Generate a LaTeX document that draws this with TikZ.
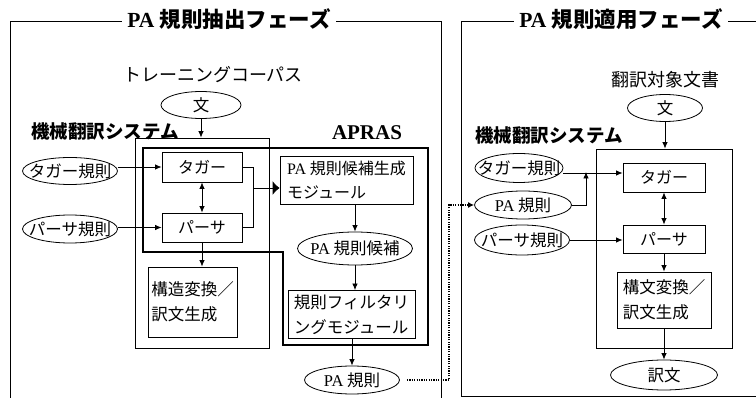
\documentclass[tikz,border=0pt]{standalone}
\usepackage{fontspec}
\setmainfont{Liberation Serif}
\newfontfamily\jp{Noto Sans CJK JP}
\usetikzlibrary{shapes.geometric,arrows.meta}
\begin{document}
\begin{tikzpicture}[x=1pt,y=-1pt,
  thin/.style={line width=0.8pt},
  box/.style={draw, line width=0.8pt, inner sep=0pt, align=left, font=\jp\fontsize{16}{24.5}\selectfont},
  frame/.style={draw, line width=0.8pt, inner sep=0pt},
  labstyle/.style={font=\jp\fontsize{16.5}{16.5}\selectfont, inner sep=0pt},
  ell/.style={draw, ellipse, line width=0.8pt, inner sep=0pt, label={[labstyle]center:{#1}}},
  arr/.style={line width=0.8pt, -{Latex[length=6.5pt,width=5.5pt]}},
  bigarr/.style={line width=0.8pt, -{Latex[length=7pt,width=14pt]}},
  darr/.style={line width=0.8pt, {Latex[length=6.5pt,width=5.5pt]}-{Latex[length=6.5pt,width=5.5pt]}},
  dotline/.style={line width=1.6pt, dash pattern=on 1.2pt off 1.2pt, -{Latex[length=6pt,width=6pt]}},
  phase/.style={fill=white, inner xsep=5pt, inner ysep=0pt, font=\bfseries\fontsize{21.5}{21.5}\selectfont},
  mtlabel/.style={font=\jp\bfseries\fontsize{18.5}{18.5}\selectfont, inner sep=0pt},
  plain/.style={font=\jp\fontsize{18}{18}\selectfont, inner sep=0pt}
]
\useasboundingbox (0,0) rectangle (756,398);

% ---------- phase frames ----------
\draw[thin] (10,398) -- (10,21) -- (441,21) -- (441,398);
\draw[thin] (756,21) -- (461,21) -- (461,396) -- (756,396);
\node[phase] (title1) at (229,19) {PA {\jp 規則抽出フェーズ}};
\node[phase] (title2) at (621,19) {PA {\jp 規則適用フェーズ}};

% ---------- left: extraction phase ----------
\node[plain] (corpus) at (213,75) {トレーニングコーパス};
\node[ell={文}, minimum width=80pt, minimum height=27pt] (bun1) at (201,105) {};
\node[mtlabel] (mtl1) at (105,131) {機械翻訳システム};
\node[frame, minimum width=134pt, minimum height=210pt] (mt1) at (202,243) {};
\node[box, minimum width=80pt, minimum height=30pt] (tagger1) at (202,167) {タガー};
\node[box, minimum width=80pt, minimum height=29pt] (parser1) at (202,227.5) {パーサ};
\node[box, minimum width=89pt, minimum height=70pt, font=\jp\fontsize{16.5}{25}\selectfont] (struct1) at (192.5,302) {構造変換／\\訳文生成};
\node[ell={タガー規則}, minimum width=95pt, minimum height=27pt] (tr1) at (70,171) {};
\node[ell={パーサ規則}, minimum width=95pt, minimum height=28pt] (pr1) at (70,229) {};

% APRAS region (thick outline)
\draw[line width=2.6pt, line join=miter] (143,148) -- (428,148) -- (428,345) -- (283,345) -- (283,252) -- (143,252) -- cycle;
\node[font=\bfseries\fontsize{21}{21}\selectfont, inner sep=0pt] (apras) at (367,133) {APRAS};
\node[box, minimum width=133pt, minimum height=48pt] (candgen) at (346.5,180) {{\rmfamily PA} 規則候補生成\\モジュール};
\node[ell={{\rmfamily PA} 規則候補}, minimum width=115pt, minimum height=33pt] (cand) at (355,248.5) {};
\node[box, minimum width=127pt, minimum height=48pt, font=\jp\fontsize{16.5}{25}\selectfont] (filter) at (351.5,314.5) {規則フィルタリ\\ングモジュール};
\node[ell={{\rmfamily PA} 規則}, minimum width=95pt, minimum height=28pt] (pa1) at (352,380) {};

% left connectors
\draw[arr] (bun1.south) -- (bun1.south |- mt1.north);
\draw[arr] (tr1.east |- tagger1.west) -- (tagger1.west);
\draw[arr] (pr1.east |- parser1.west) -- (parser1.west);
\draw[darr] (tagger1.south) -- (parser1.north);
\draw[arr] (parser1.south) -- (parser1.south |- struct1.north);
\coordinate (j1) at (253,188);
\draw[thin] (tagger1.east) -- (tagger1.east -| j1) -- (parser1.east -| j1) -- (parser1.east);
\draw[bigarr] (j1) -- (candgen.west |- j1);
\draw[arr] (cand.north |- candgen.south) -- (cand.north);
\draw[arr] (cand.south) -- (cand.south |- filter.north);
\draw[arr] (pa1.north |- filter.south) -- (pa1.north);

% ---------- right: application phase ----------
\node[plain] (target) at (665,80) {翻訳対象文書};
\node[ell={文}, minimum width=75pt, minimum height=27pt] (bun2) at (665,108) {};
\node[mtlabel] (mtl2) at (549,135) {機械翻訳システム};
\node[frame, minimum width=136pt, minimum height=199pt] (mt2) at (664,248.5) {};
\node[box, minimum width=82pt, minimum height=29pt] (tagger2) at (664,177.5) {タガー};
\node[box, minimum width=82pt, minimum height=28pt] (parser2) at (664,239) {パーサ};
\node[box, minimum width=94pt, minimum height=56pt, font=\jp\fontsize{16.5}{25}\selectfont] (struct2) at (664,300) {構文変換／\\訳文生成};
\node[ell={タガー規則}, minimum width=88pt, minimum height=29pt] (tr2) at (519,168) {};
\node[ell={{\rmfamily PA} 規則}, minimum width=97pt, minimum height=28pt] (pa2) at (523,205) {};
\node[ell={パーサ規則}, minimum width=95pt, minimum height=30pt] (pr2) at (522,240) {};
\node[ell={訳文}, minimum width=107pt, minimum height=30pt] (yaku) at (664,375) {};

% right connectors
\coordinate (a2) at (586,173);
\draw[arr] (bun2.south) -- (bun2.south |- mt2.north);
\draw[arr] (tr2.east |- a2) -- (tagger2.west |- a2);
\draw[arr] (pa2.east) -| ([yshift=1pt]a2);
\draw[arr] (pr2.east) -- (parser2.west |- pr2.east);
\draw[darr] (tagger2.south) -- (parser2.north);
\draw[arr] (parser2.south) -- (struct2.north);
\draw[arr] (struct2.south) -- (yaku.north);

% dotted transfer of PA rules
\coordinate (d) at (449,0);
\draw[dotline] ([xshift=7pt]pa1.east) -- (d |- pa1.east) -- (d |- pa2.west) -- (pa2.west);
\end{tikzpicture}
\end{document}
